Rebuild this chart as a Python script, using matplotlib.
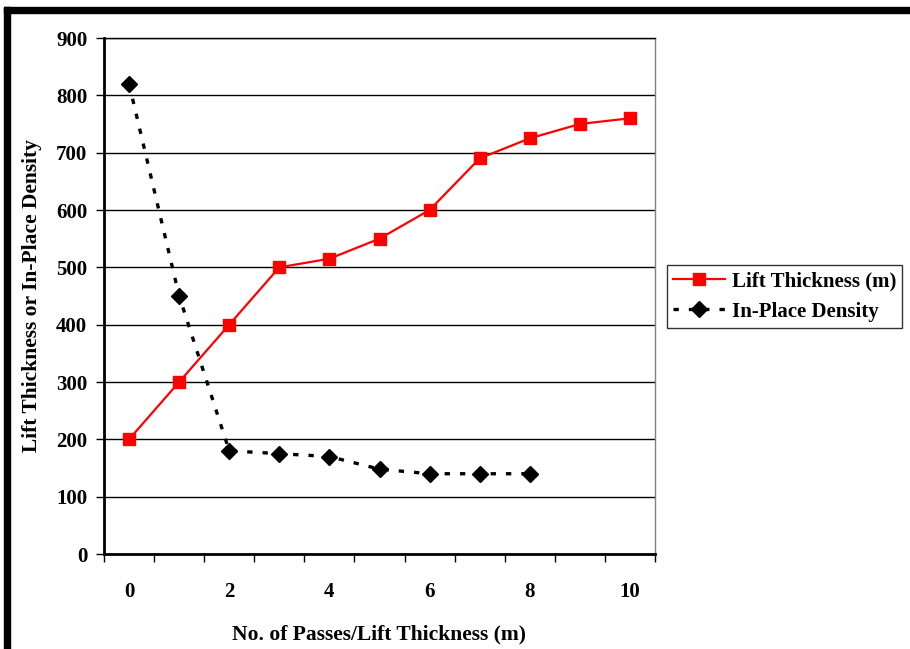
import matplotlib.pyplot as plt
from matplotlib.patches import Rectangle

# データ
passes = [0, 1, 2, 3, 4, 5, 6, 7, 8, 9, 10]
lift_thickness = [200, 300, 400, 500, 515, 550, 600, 690, 725, 750, 760]
density_x = [0, 1, 2, 3, 4, 5, 6, 7, 8]
in_place_density = [820, 450, 180, 175, 170, 148, 140, 140, 140]
x_tick_labels = ["0", "2", "4", "6", "8", "10"]

plt.rcParams["font.family"] = ["Liberation Serif", "DejaVu Serif"]
plt.rcParams["font.weight"] = "bold"

fig = plt.figure(figsize=(9.1, 6.49), dpi=100)
ax = fig.add_axes([104 / 910, 1 - 554 / 649, 551 / 910, 516 / 649])

# 外枠（左と上の黒い帯）
fig.patches.append(Rectangle((4 / 910, 0), 6 / 910, 1 - 7 / 649, transform=fig.transFigure,
                             color="black", zorder=10))
fig.patches.append(Rectangle((4 / 910, 1 - 13 / 649), 1, 6 / 649, transform=fig.transFigure,
                             color="black", zorder=10))

ax.plot(passes, lift_thickness, color="#ff0000", lw=1.6, marker="s", markersize=9,
        label="Lift Thickness (m)", zorder=3)
ax.plot(density_x, in_place_density, color="black", lw=2.4, linestyle=(0, (1.6, 3.0)),
        marker="D", markersize=8, label="In-Place Density", zorder=3)

ax.set_xlim(-0.5, 10.5)
ax.set_ylim(0, 900)
ax.set_yticks(range(0, 901, 100))
ax.set_xticks([0, 2, 4, 6, 8, 10])
ax.set_xticklabels(x_tick_labels)
ax.set_xticks([i - 0.5 for i in range(12)], minor=True)
ax.tick_params(axis="x", which="major", length=0, pad=20, labelsize=15)
ax.tick_params(axis="x", which="minor", length=6, width=1, direction="out")
ax.tick_params(axis="y", length=6, width=1, direction="out", pad=6, labelsize=15)

# グリッドの設定
ax.yaxis.grid(True, color="black", lw=1)
ax.set_axisbelow(True)
ax.spines["left"].set_linewidth(2)
ax.spines["bottom"].set_linewidth(2)
ax.spines["right"].set_color("#808080")
ax.spines["right"].set_linewidth(1)
ax.spines["top"].set_linewidth(1)

ax.set_xlabel("No. of Passes/Lift Thickness (m)", fontsize=15.5, fontweight="bold", labelpad=16)
ax.set_ylabel("Lift Thickness or In-Place Density", fontsize=15.5, fontweight="bold", labelpad=10)

leg = fig.legend(loc="upper left", bbox_to_anchor=(667 / 910, 1 - 265 / 649),
                 fontsize=15, frameon=True, fancybox=False, edgecolor="black",
                 borderpad=0.3, handlelength=2.5, labelspacing=0.5, handletextpad=0.3,
                 borderaxespad=0)
leg.get_frame().set_linewidth(1)

fig.savefig("out.png", dpi=100)
